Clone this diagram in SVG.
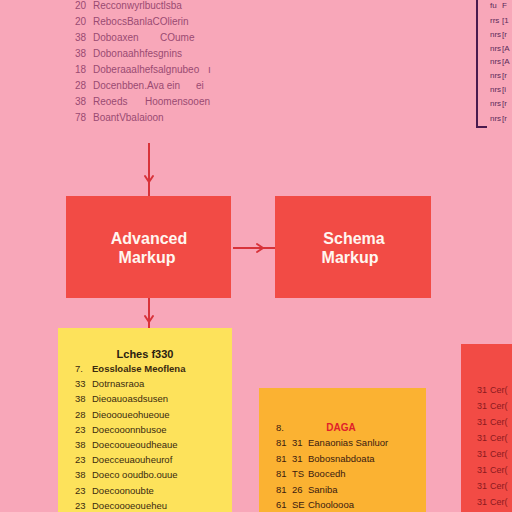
<svg xmlns="http://www.w3.org/2000/svg" width="512" height="512" viewBox="0 0 512 512">
<defs>
<style>
.node{fill:#F24B45}
.lbl{font-family:"Liberation Sans",Arial,sans-serif;font-weight:bold;font-size:16px;fill:#FFF6F0;text-anchor:middle}
.tl{font-family:"Liberation Sans",Arial,sans-serif;font-size:10px;fill:#9A4A72}
.yl{font-family:"Liberation Sans",Arial,sans-serif;font-size:9.5px;fill:#3A2A10}
.ol{font-family:"Liberation Sans",Arial,sans-serif;font-size:9.5px;fill:#3A1A10}
.rl{font-family:"Liberation Sans",Arial,sans-serif;font-size:9px;fill:#8A1A20}
.pl{font-family:"Liberation Sans",Arial,sans-serif;font-size:8px;fill:#5A2A5A}
.conn{stroke:#D8333A;stroke-width:2;fill:none}
.ah{stroke:#D8333A;stroke-width:2;fill:none;stroke-linecap:round}
</style>
</defs>
<rect width="512" height="512" fill="#F8A7B9"/>

<g id="top-list">
<text class="tl" x="75" y="9">20</text><text class="tl" x="93" y="9">Recconwyrlbuctlsba</text>
<text class="tl" x="75" y="25">20</text><text class="tl" x="93" y="25">RebocsBanlaCOlierin</text>
<text class="tl" x="75" y="41">38</text><text class="tl" x="93" y="41">Doboaxen</text><text class="tl" x="160" y="41">COume</text>
<text class="tl" x="75" y="57">38</text><text class="tl" x="93" y="57">Dobonaahhfesgnins</text>
<text class="tl" x="75" y="73">18</text><text class="tl" x="93" y="73">Doberaaalhefsalgnubeo</text><text class="tl" x="208" y="73">ı</text>
<text class="tl" x="75" y="89">28</text><text class="tl" x="93" y="89">Docenbben.Ava ein</text><text class="tl" x="196" y="89">ei</text>
<text class="tl" x="75" y="105">38</text><text class="tl" x="93" y="105">Reoeds</text><text class="tl" x="145" y="105">Hoomensooen</text>
<text class="tl" x="75" y="121">78</text><text class="tl" x="93" y="121">BoantVbalaioon</text>
</g>

<g id="top-right-list">
<path d="M477 0 V127 H487" stroke="#4A1A4E" stroke-width="2" fill="none"/>
<text class="pl" x="490" y="8">fu</text><text class="pl" x="502" y="8">F</text>
<text class="pl" x="490" y="23">rrs</text><text class="pl" x="502" y="23">[1</text>
<text class="pl" x="490" y="37">nrs</text><text class="pl" x="502" y="37">[r</text>
<text class="pl" x="490" y="51">nrs</text><text class="pl" x="502" y="51">[A</text>
<text class="pl" x="490" y="64">nrs</text><text class="pl" x="502" y="64">[A</text>
<text class="pl" x="490" y="78">nrs</text><text class="pl" x="502" y="78">[r</text>
<text class="pl" x="490" y="92">nrs</text><text class="pl" x="502" y="92">[i</text>
<text class="pl" x="490" y="106">nrs</text><text class="pl" x="502" y="106">[r</text>
<text class="pl" x="490" y="121">nrs</text><text class="pl" x="502" y="121">[r</text>
</g>

<g id="connectors">
<line class="conn" x1="149" y1="143" x2="149" y2="196"/>
<path class="ah" d="M145 176 L149 182 L153 176"/>
<line class="conn" x1="233" y1="248" x2="275" y2="248"/>
<path class="ah" d="M257 244 L263 248 L257 252"/>
<line class="conn" x1="149" y1="298" x2="149" y2="328"/>
<path class="ah" d="M145 316 L149 322 L153 316"/>
</g>

<g id="advanced-markup">
<rect class="node" x="66" y="196" width="165" height="102"/>
<text class="lbl" x="149" y="244">Advanced</text>
<text class="lbl" x="147" y="263">Markup</text>
</g>

<g id="schema-markup">
<rect class="node" x="275" y="196" width="156" height="102"/>
<text class="lbl" x="354" y="244">Schema</text>
<text class="lbl" x="350" y="263">Markup</text>
</g>

<g id="yellow-list">
<rect x="58" y="328" width="174" height="184" fill="#FDE25B"/>
<text x="145" y="358" font-family="Liberation Sans,Arial,sans-serif" font-weight="bold" font-size="11" fill="#2A2010" text-anchor="middle">Lches f330</text>
<text class="yl" x="75" y="372">7.</text><text class="yl" x="92" y="372" font-weight="bold">Eossloalse Meoflena</text>
<text class="yl" x="75" y="387">33</text><text class="yl" x="92" y="387">Dotrnasraoa</text>
<text class="yl" x="75" y="402">38</text><text class="yl" x="92" y="402">Dieoauoasdsusen</text>
<text class="yl" x="75" y="418">28</text><text class="yl" x="92" y="418">Dieoooueohueoue</text>
<text class="yl" x="75" y="433">23</text><text class="yl" x="92" y="433">Doecooonnbusoe</text>
<text class="yl" x="75" y="448">38</text><text class="yl" x="92" y="448">Doecooueoudheaue</text>
<text class="yl" x="75" y="463">23</text><text class="yl" x="92" y="463">Doecceuaouheurof</text>
<text class="yl" x="75" y="478">38</text><text class="yl" x="92" y="478">Doeco ooudbo.ouue</text>
<text class="yl" x="75" y="494">23</text><text class="yl" x="92" y="494">Doecoonoubte</text>
<text class="yl" x="75" y="509">23</text><text class="yl" x="92" y="509">Doecoooeoueheu</text>
</g>

<g id="orange-list">
<rect x="259" y="388" width="167" height="124" fill="#FBB232"/>
<text class="ol" x="276" y="431">8.</text>
<text x="341" y="431" font-family="Liberation Sans,Arial,sans-serif" font-weight="bold" font-size="10" fill="#E0202A" text-anchor="middle">DAGA</text>
<text class="ol" x="276" y="446">81</text><text class="ol" x="292" y="446">31</text><text class="ol" x="308" y="446">Eanaonias Sanluor</text>
<text class="ol" x="276" y="462">81</text><text class="ol" x="292" y="462">31</text><text class="ol" x="308" y="462">Bobosnabdoata</text>
<text class="ol" x="276" y="477">81</text><text class="ol" x="292" y="477">TS</text><text class="ol" x="308" y="477">Boocedh</text>
<text class="ol" x="276" y="493">81</text><text class="ol" x="292" y="493">26</text><text class="ol" x="308" y="493">Saniba</text>
<text class="ol" x="276" y="508">61</text><text class="ol" x="292" y="508">SE</text><text class="ol" x="308" y="508">Chooloooa</text>
</g>

<g id="red-list">
<rect x="461" y="344" width="51" height="168" fill="#F24B45"/>
<text class="rl" x="477" y="393">31</text><text class="rl" x="490" y="393">Cer(</text>
<text class="rl" x="477" y="409">31</text><text class="rl" x="490" y="409">Cer(</text>
<text class="rl" x="477" y="425">31</text><text class="rl" x="490" y="425">Cer(</text>
<text class="rl" x="477" y="441">31</text><text class="rl" x="490" y="441">Cer(</text>
<text class="rl" x="477" y="457">31</text><text class="rl" x="490" y="457">Cer(</text>
<text class="rl" x="477" y="473">31</text><text class="rl" x="490" y="473">Cer(</text>
<text class="rl" x="477" y="489">31</text><text class="rl" x="490" y="489">Cer(</text>
<text class="rl" x="477" y="505">31</text><text class="rl" x="490" y="505">Cer(</text>
</g>
</svg>
